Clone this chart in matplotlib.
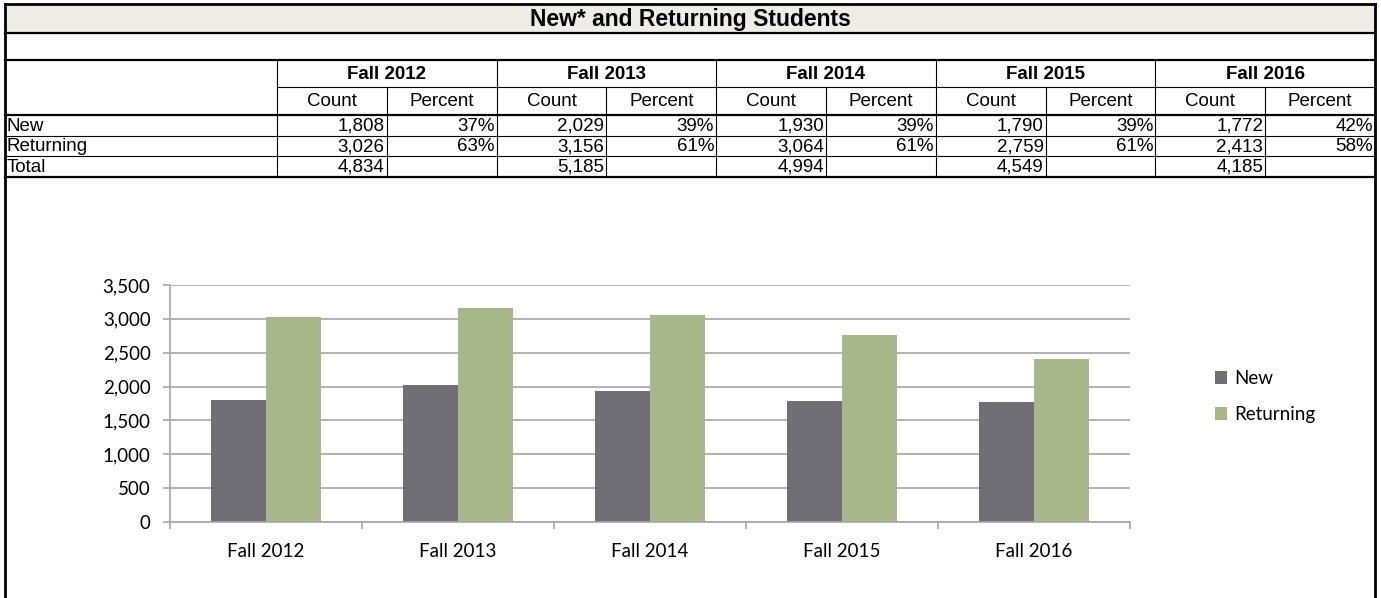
import matplotlib.pyplot as plt
from matplotlib.patches import Rectangle
from matplotlib.ticker import FuncFormatter

# data
terms = ["Fall 2012", "Fall 2013", "Fall 2014", "Fall 2015", "Fall 2016"]
new_counts = [1808, 2029, 1930, 1790, 1772]
returning_counts = [3026, 3156, 3064, 2759, 2413]
total_counts = [4834, 5185, 4994, 4549, 4185]
new_pct = [37, 39, 39, 39, 42]
returning_pct = [63, 61, 61, 61, 58]

title = "New* and Returning Students"
row_labels = ["New", "Returning", "Total"]

new_color = "#716F76"
ret_color = "#A8B78A"
grid_color = "#A6A6A6"

W, H = 1381, 598
fig = plt.figure(figsize=(W / 100, H / 100), dpi=100)

# ---- table drawn in pixel coordinates on a full-figure axes ----
tab = fig.add_axes([0, 0, 1, 1])
tab.set_xlim(0, W)
tab.set_ylim(H, 0)
tab.axis("off")

x_left, x_right = 5, 1375
x_lab = 277
col_w = (x_right - x_lab) / 10
rows_y = [4, 33, 60, 87, 115, 135.5, 156, 176.5]

thin, thick = 0.8, 1.6
tfont = "Liberation Sans"
fs = 13.5

tab.add_patch(Rectangle((x_left, rows_y[0]), x_right - x_left, rows_y[1] - rows_y[0],
                        facecolor="#EEEEE6", edgecolor="none"))

# outer frame
tab.plot([x_left, x_right], [rows_y[0]] * 2, color="black", lw=2)
tab.plot([x_left] * 2, [rows_y[0], H], color="black", lw=2)
tab.plot([x_right] * 2, [rows_y[0], H], color="black", lw=2)

for y, lw in [(rows_y[1], thick), (rows_y[2], thick), (rows_y[4], thick),
              (rows_y[5], thin), (rows_y[6], thin), (rows_y[7], thick)]:
    tab.plot([x_left, x_right], [y, y], color="black", lw=lw)
tab.plot([x_lab, x_right], [rows_y[3]] * 2, color="black", lw=thin)

for k in range(10):
    x = x_lab + k * col_w
    y0 = rows_y[2] if k % 2 == 0 else rows_y[3]
    tab.plot([x, x], [y0, rows_y[7]], color="black", lw=thin)

tab.text((x_left + x_right) / 2, (rows_y[0] + rows_y[1]) / 2 + 1, title,
         ha="center", va="center", fontsize=16.5, fontweight="bold", family=tfont)

for i, t in enumerate(terms):
    cx = x_lab + (2 * i + 1) * col_w
    tab.text(cx, (rows_y[2] + rows_y[3]) / 2 + 1, t, ha="center", va="center",
             fontsize=fs, fontweight="bold", family=tfont)
    tab.text(cx - col_w / 2, (rows_y[3] + rows_y[4]) / 2 + 1, "Count", ha="center",
             va="center", fontsize=fs, family=tfont)
    tab.text(cx + col_w / 2, (rows_y[3] + rows_y[4]) / 2 + 1, "Percent", ha="center",
             va="center", fontsize=fs, family=tfont)

row_vals = [
    (new_counts, new_pct),
    (returning_counts, returning_pct),
    (total_counts, None),
]
for r, (lab, (counts, pcts)) in enumerate(zip(row_labels, row_vals)):
    yc = (rows_y[4 + r] + rows_y[5 + r]) / 2 + 1
    tab.text(x_left + 2, yc, lab, ha="left", va="center", fontsize=fs, family=tfont)
    for i in range(len(terms)):
        x0 = x_lab + 2 * i * col_w
        tab.text(x0 + col_w - 2, yc, f"{counts[i]:,}", ha="right", va="center",
                 fontsize=fs, family=tfont)
        if pcts is not None:
            tab.text(x0 + 2 * col_w - 2, yc, f"{pcts[i]}%", ha="right", va="center",
                     fontsize=fs, family=tfont)

# ---- bar chart ----
ax = fig.add_axes([170 / W, (H - 522) / H, 960 / W, 237 / H])
x = range(len(terms))
bw = 55 / 192
ax.bar([i - bw / 2 for i in x], new_counts, width=bw, color=new_color, label="New", zorder=2)
ax.bar([i + bw / 2 for i in x], returning_counts, width=bw, color=ret_color,
       label="Returning", zorder=2)

ax.set_xlim(-0.5, len(terms) - 0.5)
ax.set_ylim(0, 3500)
ax.set_yticks(range(0, 3501, 500))
ax.yaxis.set_major_formatter(FuncFormatter(lambda v, p: f"{int(v):,}"))
ax.set_xticks(list(x))
ax.set_xticklabels(terms)
ax.set_xticks([i - 0.5 for i in range(len(terms) + 1)], minor=True)

ax.yaxis.grid(True, color=grid_color, lw=1.2)
ax.set_axisbelow(True)
for s in ["top", "right"]:
    ax.spines[s].set_visible(False)
for s in ["left", "bottom"]:
    ax.spines[s].set_color(grid_color)
    ax.spines[s].set_linewidth(1.2)

cfont = "Lato"
cfs = 13.5
ax.tick_params(axis="y", length=5, width=1.2, color=grid_color, pad=9, labelsize=cfs)
ax.tick_params(axis="x", which="major", length=0, pad=15, labelsize=cfs)
ax.tick_params(axis="x", which="minor", length=5, width=1.2, color=grid_color)
for lbl in ax.get_xticklabels() + ax.get_yticklabels():
    lbl.set_family(cfont)

ax.legend(loc="upper left", bbox_to_anchor=(1.079, 0.68), frameon=False,
          borderpad=0, handlelength=0.65, handleheight=0.65, handletextpad=0.35,
          labelspacing=1.0, prop={"family": cfont, "size": cfs})

fig.savefig("out.png", dpi=100)
